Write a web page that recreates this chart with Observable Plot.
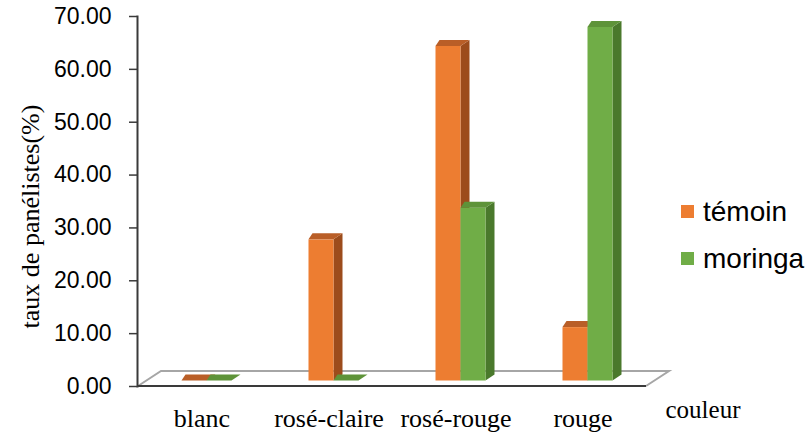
<!DOCTYPE html>
<html>
<head>
<meta charset="utf-8">
<script src="https://cdn.jsdelivr.net/npm/d3@7"></script>
<script src="https://cdn.jsdelivr.net/npm/@observablehq/plot@0.6"></script>
<style>
  body { margin: 0; background: #fff; }
  #chart { position: relative; width: 809px; height: 432px; }
  .legend { position: absolute; left: 681px; top: 188px; font-family: "Liberation Sans", Arial, sans-serif; font-size: 28px; color: #000; }
  .legend .item { display: flex; align-items: center; height: 47px; }
  .legend .sw { width: 13px; height: 13px; margin-right: 9px; }
</style>
</head>
<body>
<div id="chart"></div>
<script>
// Colour categories and the share of panelists (%) choosing each one
const categories = ["blanc", "rosé-claire", "rosé-rouge", "rouge"];
const seriesNames = ["témoin", "moringa"];
const temoin = [0, 26.7, 63.3, 10.1];
const moringa = [0, 0, 32.7, 66.9];
const yTicks = [0, 10, 20, 30, 40, 50, 60, 70];

// Face shades for each series: front, side, top
const frontColors = ["#ED7D31", "#70AD47"];
const sideColors = ["#9C4C1C", "#4A792C"];
const topColors = ["#B95E27", "#5E9339"];

const seriesValues = [temoin, moringa];
const rows = categories.flatMap((category, i) =>
  seriesNames.map((series, j) => ({category, series, s: j, value: seriesValues[j][i]}))
);

// 3-D look: bars sit a little back on the floor, and have a side and a top face
const BAR_W = 25, BAR_SHIFT = 5, BAR_LIFT = 5.5;
const SIDE_DX = 9, TOP_DXL = 4, DEPTH_DY = 6;
const FLOOR_DX = 23, FLOOR_DY = 15;

function bandInfo(x) {
  const start = x(categories[0]);
  const bw = typeof x.bandwidth === "function" ? x.bandwidth() : (x.bandwidth ?? (x(categories[1]) - start));
  return {start, bw};
}

function floor() {
  return Plot.ruleY([0], {
    render(index, scales) {
      const {x, y} = scales;
      const {start, bw} = bandInfo(x);
      const x0 = start, x1 = x(categories[categories.length - 1]) + bw, y0 = y(0);
      const g = d3.create("svg:g");
      g.append("path")
        .attr("d", `M${x0},${y0}L${x0 + FLOOR_DX},${y0 - FLOOR_DY}L${x1 + FLOOR_DX},${y0 - FLOOR_DY}L${x1},${y0}`)
        .attr("fill", "#fff").attr("stroke", "#A6A6A6").attr("stroke-width", 2);
      g.append("line")
        .attr("x1", x0).attr("x2", x1).attr("y1", y0).attr("y2", y0)
        .attr("stroke", "#3A3A3A").attr("stroke-width", 2);
      return g.node();
    }
  });
}

function prisms(data) {
  return Plot.barY(data, {
    x: "category",
    y: "value",
    render(index, scales) {
      const {x, y} = scales;
      const {bw} = bandInfo(x);
      const g = d3.create("svg:g");
      for (const i of index) {
        const d = data[i];
        const mid = x(d.category) + bw / 2 + BAR_SHIFT;
        const x0 = d.s === 0 ? mid - BAR_W : mid;
        const x1 = x0 + BAR_W;
        const yb = y(0) - BAR_LIFT;
        const yt = y(d.value) - BAR_LIFT;
        if (yb - yt > 0.5) {
          g.append("path")
            .attr("d", `M${x1},${yt}L${x1 + SIDE_DX},${yt - DEPTH_DY}L${x1 + SIDE_DX},${yb - DEPTH_DY}L${x1},${yb}Z`)
            .attr("fill", sideColors[d.s]);
          g.append("rect")
            .attr("x", x0).attr("y", yt).attr("width", BAR_W).attr("height", yb - yt)
            .attr("fill", frontColors[d.s]);
        }
        g.append("path")
          .attr("d", `M${x0},${yt}L${x1},${yt}L${x1 + SIDE_DX},${yt - DEPTH_DY}L${x0 + TOP_DXL},${yt - DEPTH_DY}Z`)
          .attr("fill", topColors[d.s]);
      }
      return g.node();
    }
  });
}

const chart = Plot.plot({
  width: 809,
  height: 432,
  marginLeft: 137,
  marginRight: 162,
  marginTop: 16,
  marginBottom: 46,
  style: {background: "#fff", overflow: "visible"},
  x: {domain: categories, padding: 0, axis: null},
  y: {domain: [0, 70], axis: null},
  marks: [
    floor(),
    Plot.axisY(yTicks, {
      tickFormat: (d) => d.toFixed(2),
      tickSize: 8,
      tickPadding: 18,
      fontSize: 23,
      fontFamily: "Liberation Sans, Arial, sans-serif",
      fill: "#000",
      stroke: "#3A3A3A",
      strokeWidth: 1.5,
      label: null
    }),
    Plot.frame({anchor: "left", stroke: "#3A3A3A", strokeWidth: 2}),
    prisms(rows),
    Plot.axisX(categories, {
      tickSize: 0,
      tickPadding: 22,
      fontSize: 26,
      fontFamily: "Liberation Serif, Times New Roman, serif",
      fill: "#000",
      label: null
    }),
    Plot.text(["taux de panélistes(%)"], {
      frameAnchor: "left", dx: -107, dy: 15, rotate: -90, textAnchor: "middle",
      fontSize: 26, fontFamily: "Liberation Serif, Times New Roman, serif", fill: "#000"
    }),
    Plot.text(["couleur"], {
      frameAnchor: "bottom-right", dx: 18, dy: 31, textAnchor: "start",
      fontSize: 25, fontFamily: "Liberation Serif, Times New Roman, serif", fill: "#000"
    })
  ]
});

const host = document.getElementById("chart");
host.appendChild(chart);

// Legend on the right, built from the same series names and colours
const legend = document.createElement("div");
legend.className = "legend";
seriesNames.forEach((name, j) => {
  const item = document.createElement("div");
  item.className = "item";
  const sw = document.createElement("span");
  sw.className = "sw";
  sw.style.background = frontColors[j];
  const label = document.createElement("span");
  label.textContent = name;
  item.append(sw, label);
  legend.append(item);
});
host.appendChild(legend);
</script>
</body>
</html>
